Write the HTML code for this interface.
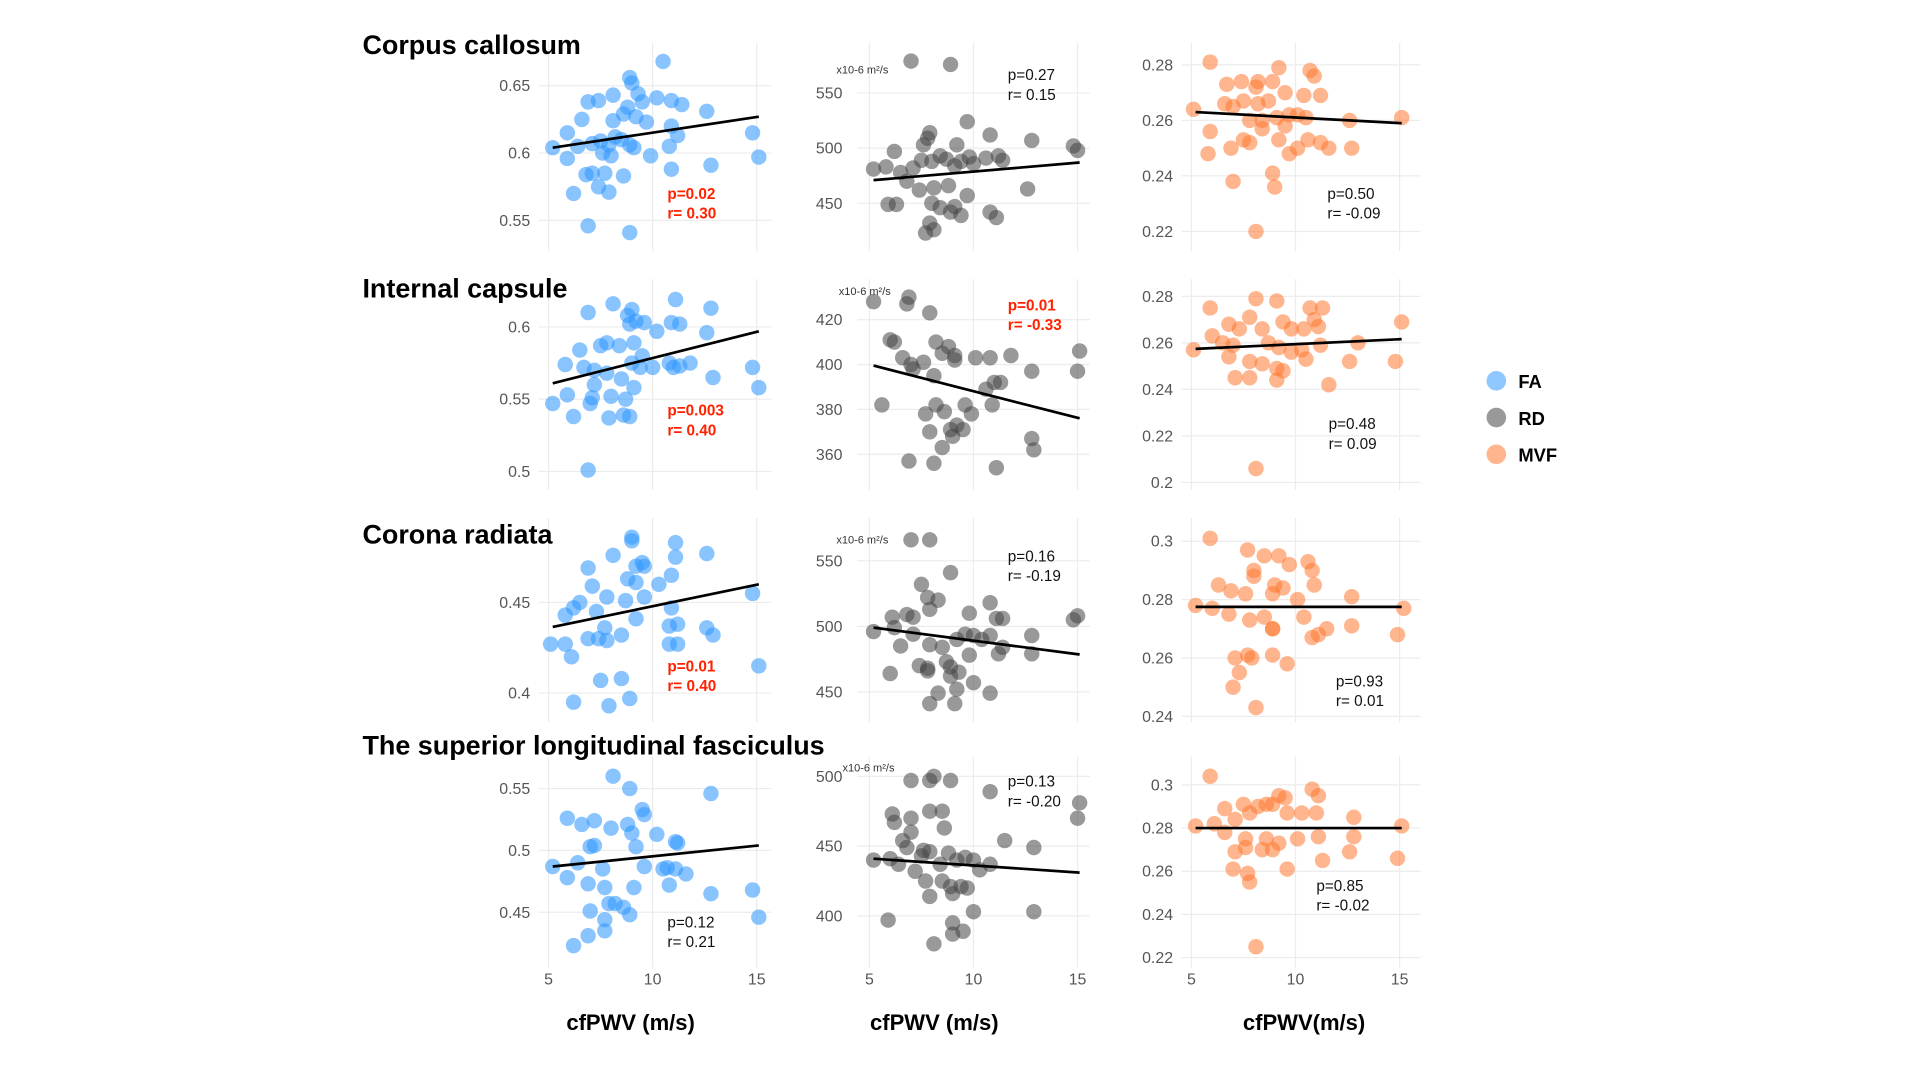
<!DOCTYPE html>
<html><head><meta charset="utf-8"><style>
html,body{margin:0;padding:0;background:#fff;}
svg{display:block;font-family:"Liberation Sans",Arial,sans-serif;}
</style></head><body>
<svg id="fig" width="1920" height="1080" viewBox="0 0 1568 882" xmlns="http://www.w3.org/2000/svg">
<g id="grid"></g><g id="marks"></g><g id="labels"></g>
<g>
<g><circle cx="1222" cy="311" r="8" fill="rgba(51,153,255,0.55)"/><text x="1240" y="317" font-size="15" font-weight="bold">FA</text></g>
<g><circle cx="1222" cy="341" r="8" fill="rgba(70,70,70,0.55)"/><text x="1240" y="347" font-size="15" font-weight="bold">RD</text></g>
<g><circle cx="1222" cy="371" r="8" fill="rgba(255,120,50,0.55)"/><text x="1240" y="377" font-size="15" font-weight="bold">MVF</text></g>
</g>
<text x="296" y="44" font-size="22" font-weight="bold">Corpus callosum</text>
<text x="296" y="243" font-size="22" font-weight="bold">Internal capsule</text>
<text x="296" y="444" font-size="22" font-weight="bold">Corona radiata</text>
<text x="296" y="616" font-size="22" font-weight="bold">The superior longitudinal fasciculus</text>
<text x="515" y="841" font-size="18" font-weight="bold" text-anchor="middle">cfPWV (m/s)</text>
<text x="763" y="841" font-size="18" font-weight="bold" text-anchor="middle">cfPWV (m/s)</text>
<text x="1065" y="841" font-size="18" font-weight="bold" text-anchor="middle">cfPWV(m/s)</text>
</svg>
<script>
// ---- data ----
const xTicks=[5,10,15];
const ccFA_x=[10.5,8.9,9.0,8.1,9.3,7.4,8.8,6.9,9.5,10.2,10.9,11.4,12.6,9.2,8.6,6.6,8.1,9.7,10.9,11.2,14.8,5.9,5.2,6.4,7.1,7.5,7.9,8.2,8.5,7.6,8.9,9.1,5.9,8.0,9.9,10.8,12.8,15.1,7.1,8.6,7.7,7.4,6.8,6.2,7.9,10.9,6.9,8.9];
const ccFA_y=[0.668,0.656,0.652,0.643,0.644,0.639,0.634,0.638,0.638,0.641,0.639,0.636,0.631,0.627,0.629,0.625,0.624,0.623,0.620,0.613,0.615,0.615,0.604,0.605,0.607,0.609,0.606,0.612,0.610,0.600,0.606,0.604,0.596,0.598,0.598,0.605,0.591,0.597,0.585,0.583,0.585,0.575,0.584,0.570,0.571,0.588,0.546,0.541];
const ccRD_x=[7.0,8.9,9.7,7.9,7.8,7.6,9.2,10.8,12.8,14.8,15.0,6.2,5.2,5.8,6.5,7.1,7.5,8.0,8.4,8.7,9.1,9.4,9.8,10.0,10.6,11.2,11.4,6.8,7.4,8.1,8.8,8.0,5.9,6.3,8.4,9.1,9.7,7.9,8.1,8.9,10.8,11.1,12.6,9.4,7.7];
const ccRD_y=[579,576,524,514,509,503,503,512,507,502,498,497,481,483,478,482,489,488,493,490,484,488,492,486,491,493,489,470,462,464,466,450,449,449,446,447,457,432,426,442,442,437,463,439,423];
const ccMVF_x=[5.9,9.2,6.7,7.4,8.2,8.1,8.9,10.7,10.9,9.5,10.4,11.2,6.6,7.0,7.5,8.2,8.7,5.1,9.1,9.7,10.1,7.8,8.4,9.5,10.5,12.6,15.1,5.9,8.4,9.2,7.5,7.8,10.6,11.2,11.6,12.7,9.7,10.1,6.9,5.8,8.9,9.0,7.0,8.1];
const ccMVF_y=[0.281,0.279,0.273,0.274,0.274,0.272,0.274,0.278,0.276,0.270,0.269,0.269,0.266,0.265,0.267,0.266,0.267,0.264,0.261,0.262,0.262,0.260,0.260,0.258,0.261,0.260,0.261,0.256,0.257,0.253,0.253,0.252,0.253,0.252,0.250,0.250,0.248,0.250,0.250,0.248,0.241,0.236,0.238,0.220];
const icFA_x=[11.1,12.8,6.9,8.1,9.0,8.8,9.6,9.2,8.9,10.2,10.9,11.3,12.6,8.4,9.1,7.8,7.5,9.5,6.5,9.0,10.8,11.0,11.3,11.8,9.4,5.8,6.7,7.2,7.8,8.5,10.0,14.8,7.2,8.0,9.1,12.9,15.1,5.9,7.1,7.0,5.2,8.7,6.2,7.9,8.6,8.9,6.9];
const icFA_y=[0.619,0.613,0.610,0.616,0.612,0.608,0.603,0.604,0.602,0.597,0.603,0.602,0.596,0.587,0.589,0.589,0.587,0.580,0.584,0.575,0.575,0.572,0.573,0.575,0.572,0.574,0.572,0.570,0.568,0.564,0.572,0.572,0.560,0.552,0.558,0.565,0.558,0.553,0.551,0.547,0.547,0.550,0.538,0.537,0.539,0.538,0.501];
const icRD_x=[6.9,5.2,6.8,7.9,6.0,6.2,8.2,8.5,8.8,9.1,6.6,7.0,7.6,7.1,8.1,9.1,10.1,10.8,11.8,15.1,15.0,12.8,5.6,7.7,8.2,8.6,9.6,9.9,10.6,10.9,11.0,11.3,7.9,8.9,9.0,9.2,9.5,8.5,12.8,12.9,6.9,8.1,11.1];
const icRD_y=[430,428,427,423,411,410,410,405,408,404,403,400,401,398,395,402,403,403,404,406,397,397,382,378,382,379,382,378,389,382,392,392,370,371,368,373,371,363,367,362,357,356,354];
const icMVF_x=[5.9,8.1,9.1,10.7,11.3,6.8,7.3,7.8,8.4,9.4,9.8,10.4,10.9,11.1,15.1,6.0,6.5,7.0,8.7,9.2,9.8,10.3,11.2,13.0,5.1,6.8,7.8,8.4,9.1,9.4,10.5,12.6,14.8,7.1,7.8,9.1,11.6,8.1];
const icMVF_y=[0.275,0.279,0.278,0.275,0.275,0.268,0.266,0.271,0.266,0.269,0.266,0.266,0.270,0.267,0.269,0.263,0.260,0.259,0.260,0.258,0.256,0.257,0.259,0.260,0.257,0.254,0.252,0.251,0.249,0.248,0.253,0.252,0.252,0.245,0.245,0.244,0.242,0.206];
const crFA_x=[9.0,9.0,11.1,8.1,9.5,11.1,12.6,6.9,9.6,9.2,8.8,9.2,10.3,10.9,7.1,7.8,8.7,9.6,10.9,14.8,6.5,6.2,7.3,5.8,9.2,7.7,10.8,11.2,12.6,12.9,6.9,7.4,7.8,8.5,5.1,5.8,6.1,10.8,11.2,15.1,7.5,8.5,6.2,7.9,8.9];
const crFA_y=[0.486,0.484,0.483,0.476,0.472,0.475,0.477,0.469,0.470,0.470,0.463,0.461,0.460,0.465,0.459,0.453,0.451,0.453,0.447,0.455,0.450,0.447,0.445,0.443,0.441,0.436,0.437,0.438,0.436,0.432,0.430,0.430,0.429,0.432,0.427,0.427,0.420,0.427,0.427,0.415,0.407,0.408,0.395,0.393,0.397];
const crRD_x=[7.0,7.9,8.9,7.5,7.8,8.3,7.9,10.8,15.0,14.8,6.1,6.8,7.1,6.2,5.2,7.1,9.8,11.1,11.4,9.6,10.0,10.8,12.8,6.5,7.9,8.5,9.2,10.4,11.2,11.4,12.8,6.0,7.4,7.8,8.7,8.9,8.9,9.3,9.8,8.3,9.2,9.1,7.9,10.0,10.8,7.8];
const crRD_y=[566,566,541,532,522,520,513,518,508,505,507,509,507,499,496,494,510,506,506,494,493,493,493,485,486,484,490,490,479,484,479,464,470,468,473,469,462,465,478,449,452,441,441,457,449,466];
const crMVF_x=[5.9,7.7,8.5,9.2,9.7,10.6,10.8,6.3,8.0,8.0,9.0,9.4,10.9,10.1,7.6,6.9,8.9,12.7,5.2,15.2,6.0,6.8,7.8,8.5,8.9,8.9,10.4,11.5,11.1,10.8,12.7,14.9,7.1,7.7,7.9,8.9,9.6,7.3,7.0,8.1];
const crMVF_y=[0.301,0.297,0.295,0.295,0.292,0.293,0.290,0.285,0.290,0.288,0.285,0.284,0.285,0.280,0.282,0.283,0.282,0.281,0.278,0.277,0.277,0.275,0.273,0.274,0.270,0.270,0.274,0.270,0.268,0.267,0.271,0.268,0.260,0.261,0.260,0.261,0.258,0.255,0.250,0.243];
const slfFA_x=[8.1,8.9,12.8,5.9,6.6,7.2,8.0,8.8,9.5,9.6,10.2,11.1,11.2,9.0,9.2,7.0,6.4,7.6,5.2,7.2,9.6,10.5,10.7,11.1,5.9,6.9,7.7,9.1,10.8,11.6,12.8,14.8,7.0,7.9,8.2,8.6,8.9,7.7,15.1,6.9,7.7,6.2];
const slfFA_y=[0.560,0.550,0.546,0.526,0.521,0.524,0.518,0.521,0.533,0.529,0.513,0.507,0.506,0.514,0.503,0.503,0.490,0.485,0.487,0.504,0.487,0.485,0.486,0.485,0.478,0.473,0.470,0.470,0.472,0.481,0.465,0.468,0.451,0.457,0.457,0.454,0.448,0.444,0.446,0.431,0.435,0.423];
const slfRD_x=[7.0,7.9,8.1,8.9,10.8,15.1,15.0,6.1,7.0,6.2,7.9,8.5,8.6,7.0,6.6,6.8,7.6,7.9,5.2,6.0,6.4,7.5,8.4,8.8,9.2,9.6,10.0,10.3,10.8,11.5,12.9,7.2,7.7,8.5,8.9,9.0,9.4,9.7,7.9,10.0,12.9,5.9,9.0,9.5,9.0,8.1];
const slfRD_y=[497,497,500,497,489,481,470,473,470,467,475,475,463,460,454,449,447,446,440,441,437,443,437,445,440,442,440,433,437,454,449,432,425,425,421,416,421,420,414,403,403,397,395,389,387,380];
const slfMVF_x=[5.9,9.2,8.9,9.5,10.8,11.1,6.6,7.1,7.5,7.8,8.2,8.6,9.6,10.3,11.0,12.8,5.2,6.1,15.1,6.6,7.6,8.6,9.2,10.1,11.1,12.8,7.1,7.6,8.9,8.4,11.3,12.6,14.9,7.0,7.7,7.8,9.6,8.1];
const slfMVF_y=[0.304,0.295,0.291,0.294,0.298,0.295,0.289,0.284,0.291,0.287,0.290,0.291,0.287,0.287,0.287,0.285,0.281,0.282,0.281,0.278,0.275,0.275,0.273,0.275,0.276,0.276,0.269,0.271,0.270,0.270,0.265,0.269,0.266,0.261,0.259,0.255,0.261,0.225];
// regression line endpoints
const ccFA_fit=[0.604,0.627], ccRD_fit=[471,487], ccMVF_fit=[0.263,0.259];
const icFA_fit=[0.561,0.597], icRD_fit=[399.5,376], icMVF_fit=[0.2574,0.2616];
const crFA_fit=[0.4365,0.460], crRD_fit=[499,478.5], crMVF_fit=[0.2775,0.2775];
const slfFA_fit=[0.487,0.504], slfRD_fit=[441,431], slfMVF_fit=[0.28,0.28];
const fitX=[5.2,15.1];
// tick labels
const ccFA_ticks=[0.65,0.6,0.55], ccRD_ticks=[550,500,450], ccMVF_ticks=[0.28,0.26,0.24,0.22];
const icFA_ticks=[0.6,0.55,0.5], icRD_ticks=[420,400,380,360], icMVF_ticks=[0.28,0.26,0.24,0.22,0.2];
const crFA_ticks=[0.45,0.4], crRD_ticks=[550,500,450], crMVF_ticks=[0.3,0.28,0.26,0.24];
const slfFA_ticks=[0.55,0.5,0.45], slfRD_ticks=[500,450,400], slfMVF_ticks=[0.3,0.28,0.26,0.24,0.22];
const stats=[["p=0.02","r= 0.30",1],["p=0.27","r= 0.15",0],["p=0.50","r= -0.09",0],
["p=0.003","r= 0.40",1],["p=0.01","r= -0.33",1],["p=0.48","r= 0.09",0],
["p=0.01","r= 0.40",1],["p=0.16","r= -0.19",0],["p=0.93","r= 0.01",0],
["p=0.12","r= 0.21",0],["p=0.13","r= -0.20",0],["p=0.85","r= -0.02",0]];

// ---- layout (pixels) ----
const cols=[{x5:448,x0:440,x1:630,lab:433,fill:"rgba(51,153,255,0.58)",m:"fa"},
{x5:710,x0:700,x1:890,lab:688,fill:"rgba(70,70,70,0.55)",m:"rd"},
{x5:973,x0:965,x1:1160,lab:958,fill:"rgba(255,120,50,0.55)",m:"mvf"}];
const rows=[{y0:35,y1:205,r:"cc"},{y0:228,y1:400,r:"ic"},{y0:423,y1:590,r:"cr"},{y0:618,y1:790,r:"slf"}];
const cal=[[[0.65,70,0.55,180],[550,76,450,166],[0.28,53,0.22,189]],
[[0.6,267,0.5,385],[420,261,360,371],[0.28,242,0.2,394]],
[[0.45,492,0.4,566],[550,458,450,565],[0.3,442,0.24,585]],
[[0.55,644,0.45,745],[500,634,400,748],[0.3,641,0.22,782]]];
const statPos=[[[545,158],[823,61],[1084,158]],[[545,335],[823,249],[1085,346]],[[545,544],[823,454],[1091,556]],[[545,753],[823,638],[1075,723]]];
const unitPos=[[683,57],[685,238],[683,441],[688,627]];

const D={ccFA_x,ccFA_y,ccRD_x,ccRD_y,ccMVF_x,ccMVF_y,icFA_x,icFA_y,icRD_x,icRD_y,icMVF_x,icMVF_y,crFA_x,crFA_y,crRD_x,crRD_y,crMVF_x,crMVF_y,slfFA_x,slfFA_y,slfRD_x,slfRD_y,slfMVF_x,slfMVF_y,
ccFA_fit,ccRD_fit,ccMVF_fit,icFA_fit,icRD_fit,icMVF_fit,crFA_fit,crRD_fit,crMVF_fit,slfFA_fit,slfRD_fit,slfMVF_fit,
ccFA_ticks,ccRD_ticks,ccMVF_ticks,icFA_ticks,icRD_ticks,icMVF_ticks,crFA_ticks,crRD_ticks,crMVF_ticks,slfFA_ticks,slfRD_ticks,slfMVF_ticks};
const NS="http://www.w3.org/2000/svg";
const G=document.getElementById("grid"),M=document.getElementById("marks"),L=document.getElementById("labels");
function mk(tag,attrs,parent,txt){const e=document.createElementNS(NS,tag);for(const k in attrs)e.setAttribute(k,attrs[k]);if(txt!==undefined)e.textContent=txt;parent.appendChild(e);return e;}
const mNames=["FA","RD","MVF"];
rows.forEach((row,ri)=>{cols.forEach((col,ci)=>{
  const key=row.r+mNames[ci];
  const c=cal[ri][ci];
  const sx=v=>col.x5+(v-5)*17;
  const sy=v=>c[1]+(v-c[0])*(c[3]-c[1])/(c[2]-c[0]);
  const panel=mk("g",{},M);
  
  
  D[key+"_ticks"].forEach(t=>{
    const gl=mk("line",{x1:col.x0,x2:col.x1,y1:sy(t),y2:sy(t),stroke:"#ececec","stroke-width":1},G);
    
    
    const tl=mk("text",{x:col.lab,y:sy(t)+4.5,"font-size":13,fill:"#555","text-anchor":"end"},L,String(t));
    
    
  });
  xTicks.forEach(t=>{
    const gl=mk("line",{x1:sx(t),x2:sx(t),y1:row.y0,y2:row.y1,stroke:"#ececec","stroke-width":1},G);
    
    
    if(ri===3){
      const tl=mk("text",{x:sx(t),y:804,"font-size":13,fill:"#555","text-anchor":"middle"},L,String(t));
      
      
    }
  });
  const xs=D[key+"_x"],ys=D[key+"_y"];
  xs.forEach((x,i)=>{
    const p=mk("circle",{cx:sx(x),cy:sy(ys[i]),r:6.3,fill:col.fill},panel);
    
    
  });
  const f=D[key+"_fit"];
  const ln=mk("line",{x1:sx(fitX[0]),x2:sx(fitX[1]),y1:sy(f[0]),y2:sy(f[1]),stroke:"#000","stroke-width":2.2},panel);
  
  
  const s=stats[ri*3+ci],sp=statPos[ri][ci];
  const st={"font-size":12.5,fill:s[2]?"#ff2200":"#111","font-weight":s[2]?"bold":"normal"};
  const t1=mk("text",Object.assign({x:sp[0],y:sp[1]+4.5},st),L,s[0]);
  
  
  const t2=mk("text",Object.assign({x:sp[0],y:sp[1]+20.5},st),L,s[1]);
  
  
  if(ci===1){
    const u=unitPos[ri];
    const ut=mk("text",{x:u[0],y:u[1]+3,"font-size":9,fill:"#333"},L,"x10-6 m²/s");
    
    
  }
});});
</script>
</body></html>
